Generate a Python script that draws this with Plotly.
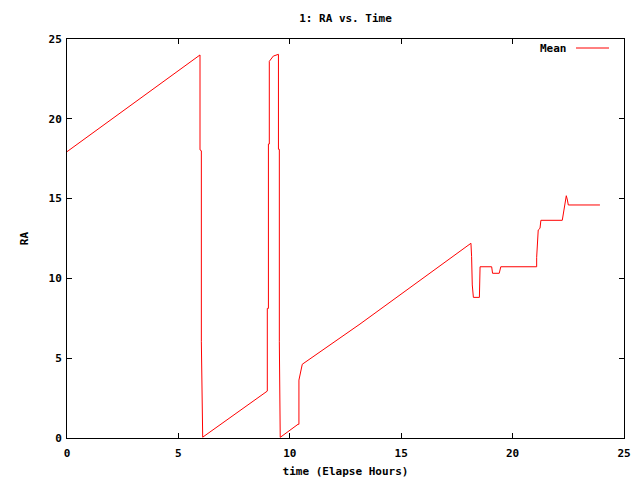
import plotly.graph_objects as go

# Elapsed time (hours) and mean RA (hours)
time_h = [0.0, 5.97, 5.97, 6.03, 6.03, 6.09,
          8.99, 8.99, 9.04, 9.04, 9.08, 9.08, 9.26, 9.49,
          9.49, 9.53, 9.53, 9.57,
          10.37, 10.41, 10.41, 10.49, 10.56, 13.15, 18.13,
          18.16, 18.19, 18.24, 18.51, 18.54, 19.06, 19.10, 19.40, 19.47,
          21.08, 21.08, 21.11, 21.15, 21.23, 21.27, 22.23, 22.28, 22.32,
          22.35, 22.41, 22.46, 22.50, 23.92]
ra_mean = [17.94, 24.0, 18.05, 18.0, 6.03, 0.05,
           2.94, 8.12, 8.12, 18.42, 18.42, 23.6, 23.93, 24.04,
           18.09, 18.09, 6.03, 0.04,
           0.86, 0.86, 3.63, 4.26, 4.62, 7.14, 12.2,
           11.36, 9.59, 8.81, 8.81, 10.73, 10.73, 10.32, 10.32, 10.73,
           10.73, 11.32, 12.45, 13.03, 13.14, 13.64, 13.64, 14.08, 14.39,
           14.91, 15.18, 14.91, 14.6, 14.6]

x_ticks = [0, 5, 10, 15, 20, 25]
y_ticks = [0, 5, 10, 15, 20, 25]

FONT = "DejaVu Sans Mono"

# page body has an ~8px offset; size the figure to fit the 640x480 window
W, H = 632, 472
L, R, T, B = 59, 16, 31, 42

fig = go.Figure()
fig.add_trace(go.Scatter(x=time_h, y=ra_mean, mode="lines", name="Mean",
                         line=dict(color="#ff0000", width=1), showlegend=False))

axis_common = dict(showgrid=False, zeroline=False, showline=True, linecolor="black",
                   linewidth=1, mirror="allticks", ticks="inside", ticklen=5,
                   tickcolor="black", automargin=False,
                   tickfont=dict(family=FONT, size=11, color="black"))

fig.update_layout(
    width=W, height=H,
    margin=dict(l=L, r=R, t=T, b=B),
    paper_bgcolor="white", plot_bgcolor="white",
    font=dict(family=FONT, size=11, color="black"),
    title=dict(text="<b>1: RA vs. Time</b>", x=(67 - 8 + 557 / 2) / W, xanchor="center",
               y=1 - 10 / H, yanchor="middle",
               font=dict(family=FONT, size=11, color="black")),
    xaxis=dict(range=[0, 25], tickvals=x_ticks,
               ticktext=[f"<b>{v}</b>" for v in x_ticks],
               ticklabelstandoff=5,
               title=dict(text="<b>time (Elapse Hours)</b>", standoff=8,
                          font=dict(family=FONT, size=11)),
               **axis_common),
    yaxis=dict(range=[0, 25], tickvals=y_ticks,
               ticktext=[f"<b>{v}</b>" for v in y_ticks],
               ticklabelstandoff=2,
               title=dict(text="<b>RA</b>", standoff=17,
                          font=dict(family=FONT, size=11)),
               **axis_common),
    showlegend=False,
)

# gnuplot-style key: text then line sample
PW, PH = W - L - R, H - T - B
key_y = (430 - 40) / PH
fig.add_annotation(xref="paper", yref="paper", x=(561 - L) / PW, y=key_y,
                   text="<b>Mean</b>", showarrow=False, xanchor="right", yanchor="middle",
                   font=dict(family=FONT, size=11, color="black"))
fig.add_shape(type="line", xref="paper", yref="paper",
              x0=(568 - L) / PW, x1=(601 - L) / PW,
              y0=key_y, y1=key_y,
              line=dict(color="#ff0000", width=1))

fig.write_html("out.html")
